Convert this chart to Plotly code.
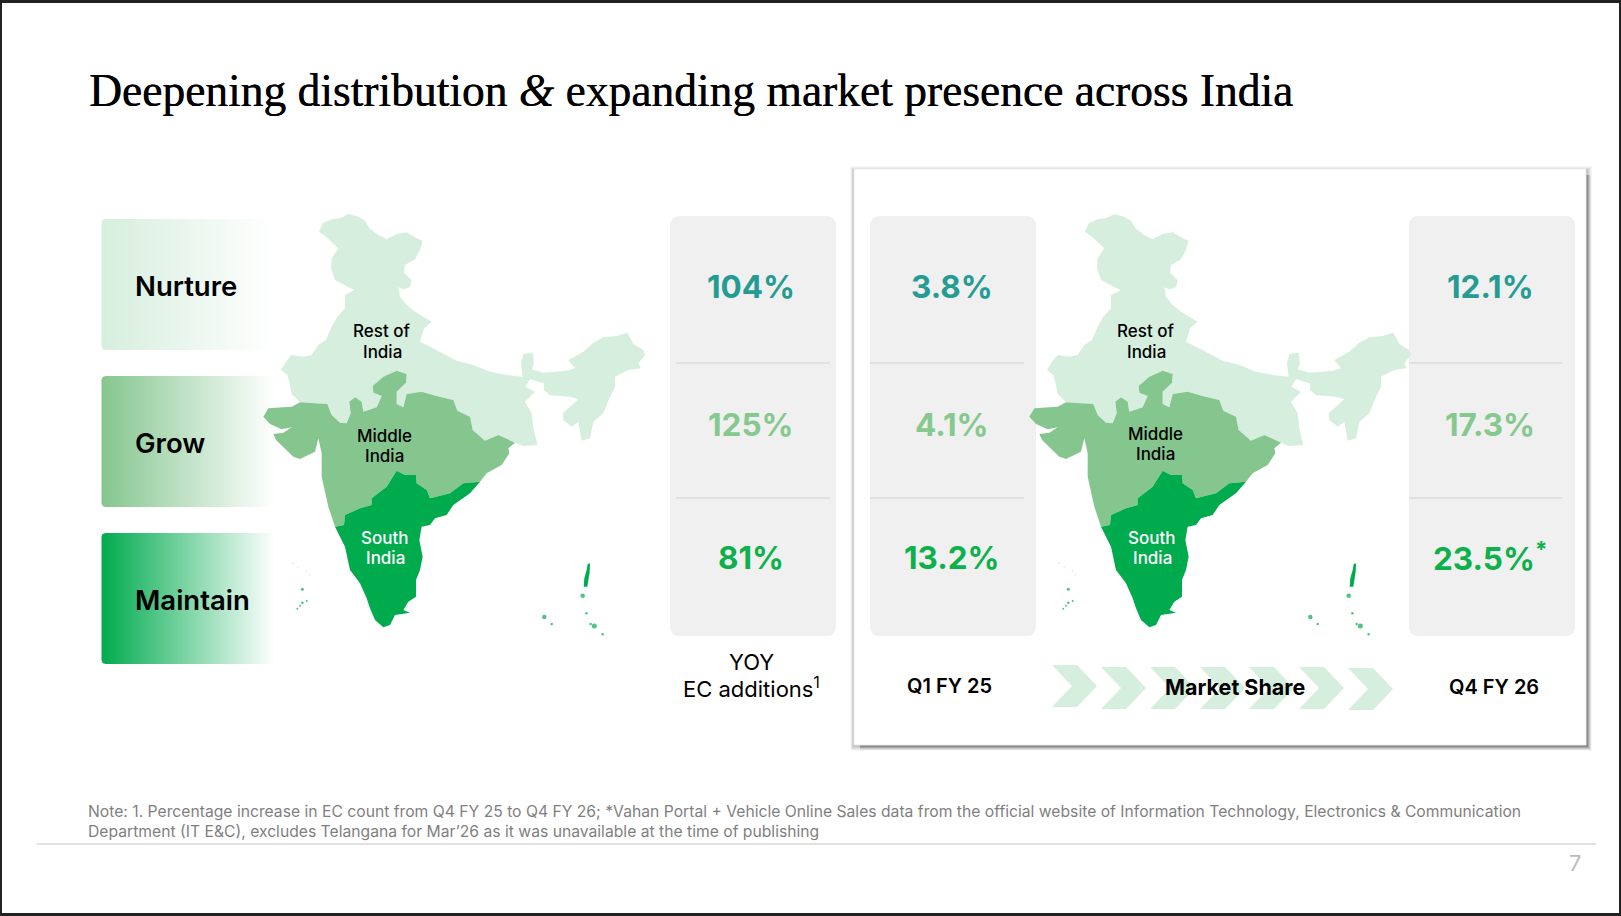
#!/usr/bin/env python
# -*- coding: utf-8 -*-
import plotly.graph_objects as go

W, H = 1621, 916
SANS = "Inter"

title = "Deepening distribution <i>&</i> expanding market presence across India"
tiers = ["Nurture", "Grow", "Maintain"]
tier_colors = ["#d6eedd", "#85c68f", "#00ab4e"]
value_colors = ["#259c93", "#85c98f", "#0db14b"]

yoy_values = ["104%", "125%", "81%"]
q1_values = ["3.8%", "4.1%", "13.2%"]
q4_values = ["12.1%", "17.3%", "23.5%<sup>*</sup>"]

footnote_1 = ("Note: 1. Percentage increase in EC count from Q4 FY 25 to Q4 FY 26; *Vahan Portal + Vehicle Online Sales "
              "data from the official website of Information Technology, Electronics &amp; Communication")
footnote_2 = ("Department (IT E&amp;C), excludes Telangana for Mar’26 as it was unavailable at the time of publishing")

# map outlines, in map units (traced by eye)
rest_outer = [
    (150, 607), (125, 582), (118, 545), (112, 525), (93, 510), (110, 482), (125, 465), (160, 470), (185, 465),
    (205, 435), (228, 420), (245, 380), (262, 350), (285, 325), (285, 285), (315, 270), (295, 262), (255, 240),
    (243, 205), (245, 175), (265, 145), (245, 125), (225, 108), (207, 95), (218, 70), (245, 58), (270, 55),
    (295, 42), (325, 50), (345, 62), (358, 85), (385, 105), (410, 118), (440, 102), (470, 97), (500, 115),
    (518, 122), (510, 150), (495, 178), (465, 195), (462, 218), (485, 240), (480, 262), (460, 268), (445, 262),
    (450, 290), (470, 315), (495, 335), (520, 350), (545, 365), (522, 385), (510, 425), (540, 440), (575, 458),
    (620, 482), (670, 495), (720, 515), (770, 525), (818, 530), (813, 490), (820, 462), (848, 458), (852, 490),
    (845, 508), (880, 518), (950, 512), (975, 505), (955, 480), (1000, 455), (1028, 430), (1060, 412),
    (1100, 408), (1132, 398), (1150, 432), (1180, 450), (1185, 465), (1165, 490), (1172, 505), (1135, 510),
    (1095, 530), (1095, 562), (1080, 590), (1060, 640), (1030, 665), (1020, 715), (995, 722), (985, 665),
    (965, 680), (940, 660), (938, 640), (985, 598), (960, 590), (900, 586), (882, 570), (882, 550), (840, 538),
    (826, 560), (855, 575), (825, 605), (845, 640), (850, 685), (862, 735), (820, 738),
]
rest_middle_border = [
    (795, 728), (745, 705), (705, 722), (668, 690), (660, 650), (622, 632), (610, 600), (560, 588), (515, 575),
    (470, 582), (460, 622), (440, 612), (440, 575), (468, 548), (470, 522), (440, 512), (400, 530), (368, 558),
    (370, 578), (395, 588), (380, 622), (340, 635), (335, 605), (315, 592), (298, 605), (302, 640), (290, 670),
    (270, 668), (245, 645), (232, 612),
]
middle_west_coast = [
    (150, 607), (125, 620), (55, 625), (40, 650), (60, 672), (95, 688), (125, 682), (100, 698), (70, 702),
    (78, 720), (130, 770), (150, 777), (195, 755), (205, 715), (215, 760), (215, 830), (235, 920),
]
middle_south_border = [
    (255, 980), (282, 975), (285, 945), (330, 925), (365, 915), (365, 895), (410, 860), (440, 812), (465, 825),
    (498, 825), (500, 850), (530, 870), (540, 895), (600, 880), (640, 850), (690, 845),
]
middle_east_coast = [(710, 820), (755, 795), (778, 760), (775, 745)]
south_coast = [
    (660, 880), (610, 915), (590, 945), (555, 955), (540, 975), (515, 980), (508, 1020), (518, 1070), (510, 1110),
    (498, 1140), (498, 1190), (475, 1205), (460, 1230), (480, 1238), (435, 1245), (420, 1275), (400, 1282),
    (375, 1260), (360, 1225), (350, 1195), (330, 1150), (300, 1110), (285, 1040),
]
andaman = [(1013, 1092), (1020, 1090), (1019, 1115), (1014, 1145), (1012, 1160), (1001, 1160), (1003, 1135), (1010, 1110)]
island_dots = [
    (998, 1187), (1009, 1240), (883, 1251), (905, 1272), (1022, 1272), (1033, 1278), (1058, 1303), (157, 1168),
    (142, 1226), (150, 1217), (157, 1208), (170, 1203),
]
island_sizes = [4.5, 2.5, 4.5, 2.5, 2.5, 5, 2.5, 3, 2, 2, 2.5, 2]
pale_dots = [(130, 1090), (145, 1103), (170, 1112), (178, 1125)]

map_labels_left = [("Rest of", 382, 331, "black"), ("India", 382, 352, "black"),
                   ("Middle", 384, 436, "black"), ("India", 384, 456, "black"),
                   ("South", 385, 538, "white"), ("India", 385, 558, "white")]
map_labels_right = [("Rest of", 1146, 331, "black"), ("India", 1146, 352, "black"),
                    ("Middle", 1155, 434, "black"), ("India", 1155, 454, "black"),
                    ("South", 1152, 538, "white"), ("India", 1152, 558, "white")]

chevron_left = [1052, 1101, 1150, 1200, 1249, 1299, 1348]
chevron_top = [665, 667, 667, 667, 667, 667, 668]


def rounded_path(x0, y0, x1, y1, r):
    return (f"M{x0+r},{y0} L{x1-r},{y0} Q{x1},{y0} {x1},{y0+r} L{x1},{y1-r} Q{x1},{y1} {x1-r},{y1} "
            f"L{x0+r},{y1} Q{x0},{y1} {x0},{y1-r} L{x0},{y0+r} Q{x0},{y0} {x0+r},{y0} Z")


def split(points):
    return [p[0] for p in points], [p[1] for p in points]


fig = go.Figure()
shapes = []
annotations = []


def add_text(text, x, y, size, color="black", weight=400, anchor="center", family=SANS, shadow=None):
    font = dict(family=family, size=size, color=color, weight=weight)
    if shadow:
        font["shadow"] = shadow
    annotations.append(dict(text=text, x=x, y=y, xref="x", yref="y", showarrow=False, xanchor=anchor,
                            yanchor="middle", align="left" if anchor == "left" else "center", font=font))


# white page on the dark window edge
shapes.append(dict(type="rect", x0=2, y0=3, x1=1619, y1=913, fillcolor="white", line_width=0,
                   xref="x", yref="y", layer="below"))

# card with soft shadow, widest layers first. almost nothing shows above the card
for g, alpha in [(6, 0.03), (5, 0.04), (4, 0.05), (3, 0.06), (2, 0.07), (1, 0.07)]:
    shapes.append(dict(type="rect", x0=854 - g * 0.6, y0=169 - max(0, g - 3), x1=1586 + g, y1=745 + g,
                       fillcolor=f"rgba(0,0,0,{alpha})", line_width=0, xref="x", yref="y", layer="below"))
# extra weight on the right and bottom only
for g, alpha in [(5, 0.05), (4, 0.07), (3, 0.09), (2, 0.1)]:
    shapes.append(dict(type="rect", x0=860, y0=175, x1=1586 + g, y1=745 + g,
                       fillcolor=f"rgba(0,0,0,{alpha})", line_width=0, xref="x", yref="y", layer="below"))
shapes.append(dict(type="rect", x0=854, y0=169, x1=1586, y1=745, fillcolor="white",
                   line=dict(color="#ececec", width=1), xref="x", yref="y", layer="below"))

# grey value panels and dividers
for x0, x1, div_x0, div_x1 in [(670, 836, 676, 830), (870, 1036, 870, 1024), (1409, 1575, 1409, 1563)]:
    shapes.append(dict(type="path", path=rounded_path(x0, 216, x1, 636, 10), fillcolor="#f0f0f0", line_width=0,
                       xref="x", yref="y", layer="below"))
    for y in (363, 498):
        shapes.append(dict(type="line", x0=div_x0, x1=div_x1, y0=y, y1=y, line=dict(color="#d2d2d2", width=1),
                           xref="x", yref="y", layer="below"))

# chevrons
for x, top in zip(chevron_left, chevron_top):
    bot = top + 42
    mid = top + 21
    shapes.append(dict(type="path", path=f"M{x},{top} L{x+25},{top} L{x+45},{mid} L{x+25},{bot} L{x},{bot} L{x+20},{mid} Z",
                       fillcolor="#d6eedd", line_width=0, xref="x", yref="y", layer="below"))

# footer rule
shapes.append(dict(type="line", x0=37, x1=1596, y0=844, y1=844, line=dict(color="#d9d9d9", width=1.5),
                   xref="x", yref="y", layer="below"))

# gradient tier boxes
for top, color in zip([219, 376, 533], tier_colors):
    x0, x1, y0, y1 = 101.5, 275, top, top + 131
    fig.add_trace(go.Scatter(
        x=[x0 + 4, x1, x1, x0 + 4, x0 + 1, x0, x0, x0 + 1, x0 + 4],
        y=[y0, y0, y1, y1, y1 - 1, y1 - 4, y0 + 4, y0 + 1, y0],
        mode="lines", line=dict(width=0), fill="toself",
        fillgradient=dict(type="horizontal", colorscale=[[0, color], [1, "#ffffff"]]),
        hoverinfo="skip", showlegend=False))


# same map twice, once per axis pair
def add_map(xa, ya):
    regions = [
        (rest_outer + rest_middle_border, tier_colors[0]),
        (middle_west_coast + middle_south_border + middle_east_coast + rest_middle_border, tier_colors[1]),
        (middle_south_border + south_coast, tier_colors[2]),
        (andaman, tier_colors[2]),
    ]
    for pts, color in regions:
        xs, ys = split(pts)
        fig.add_trace(go.Scatter(x=xs + xs[:1], y=ys + ys[:1], xaxis=xa, yaxis=ya, mode="lines", line=dict(width=0),
                                 fill="toself", fillcolor=color, hoverinfo="skip", showlegend=False))
    xs, ys = split(island_dots)
    fig.add_trace(go.Scatter(x=xs, y=ys, xaxis=xa, yaxis=ya, mode="markers", hoverinfo="skip", showlegend=False,
                             marker=dict(color=tier_colors[2], size=island_sizes, line_width=0)))
    xs, ys = split(pale_dots)
    fig.add_trace(go.Scatter(x=xs, y=ys, xaxis=xa, yaxis=ya, mode="markers", hoverinfo="skip", showlegend=False,
                             marker=dict(color="#cfe9d6", size=1.5, line_width=0)))


add_map("x2", "y2")
add_map("x3", "y3")

# texts
add_text(title, 87, 90, 45.5, family="Liberation Serif", anchor="left", shadow="0.4px 0 0 #000")
for label, y in zip(tiers, [286, 443, 600]):
    add_text(label, 132.5, y, 27.5, weight=600, anchor="left")
for vals, cx in [(yoy_values, 751), (q1_values, 951.5), (q4_values, 1490)]:
    for val, y, color in zip(vals, [286, 424.5, 557], value_colors):
        add_text(val, cx, y, 31.5, color=color, weight=700)
for lab, x, y, color in map_labels_left + map_labels_right:
    add_text(lab, x, y, 17, color=color, weight=500)
add_text("YOY", 751, 662, 22)
add_text("EC additions<sup>1</sup>", 751, 687.5, 22)
add_text("Q1 FY 25", 949, 686, 20, weight=600)
add_text("Market Share", 1235, 687, 21.5, weight=700)
add_text("Q4 FY 26", 1494, 687, 20, weight=600)
add_text(footnote_1, 86, 811, 15.7, color="#7f7f7f", anchor="left")
add_text(footnote_2, 86, 831, 15.7, color="#7f7f7f", anchor="left")
add_text("7", 1575, 863, 22, color="#bdbdbd")

hidden = dict(visible=False, fixedrange=True)
fig.update_layout(
    width=W, height=H, margin=dict(l=0, r=0, t=0, b=0), showlegend=False,
    paper_bgcolor="#222222", plot_bgcolor="rgba(0,0,0,0)", shapes=shapes, annotations=annotations,
    xaxis=dict(hidden, range=[0, W], domain=[0, 1]),
    yaxis=dict(hidden, range=[H, 0], domain=[0, 1]),
    xaxis2=dict(hidden, range=[0, 1260], domain=[250 / W, 670 / W], anchor="y2"),
    yaxis2=dict(hidden, range=[1350, 0], domain=[1 - 650 / H, 1 - 200 / H], anchor="x2"),
    xaxis3=dict(hidden, range=[0, 1260], domain=[1016 / W, 1436 / W], anchor="y3"),
    yaxis3=dict(hidden, range=[1350, 0], domain=[1 - 650 / H, 1 - 200 / H], anchor="x3"),
)

fig.write_html("out.html", config={"displayModeBar": False},
               post_script="document.body.style.margin='0';document.body.style.overflow='hidden';")
